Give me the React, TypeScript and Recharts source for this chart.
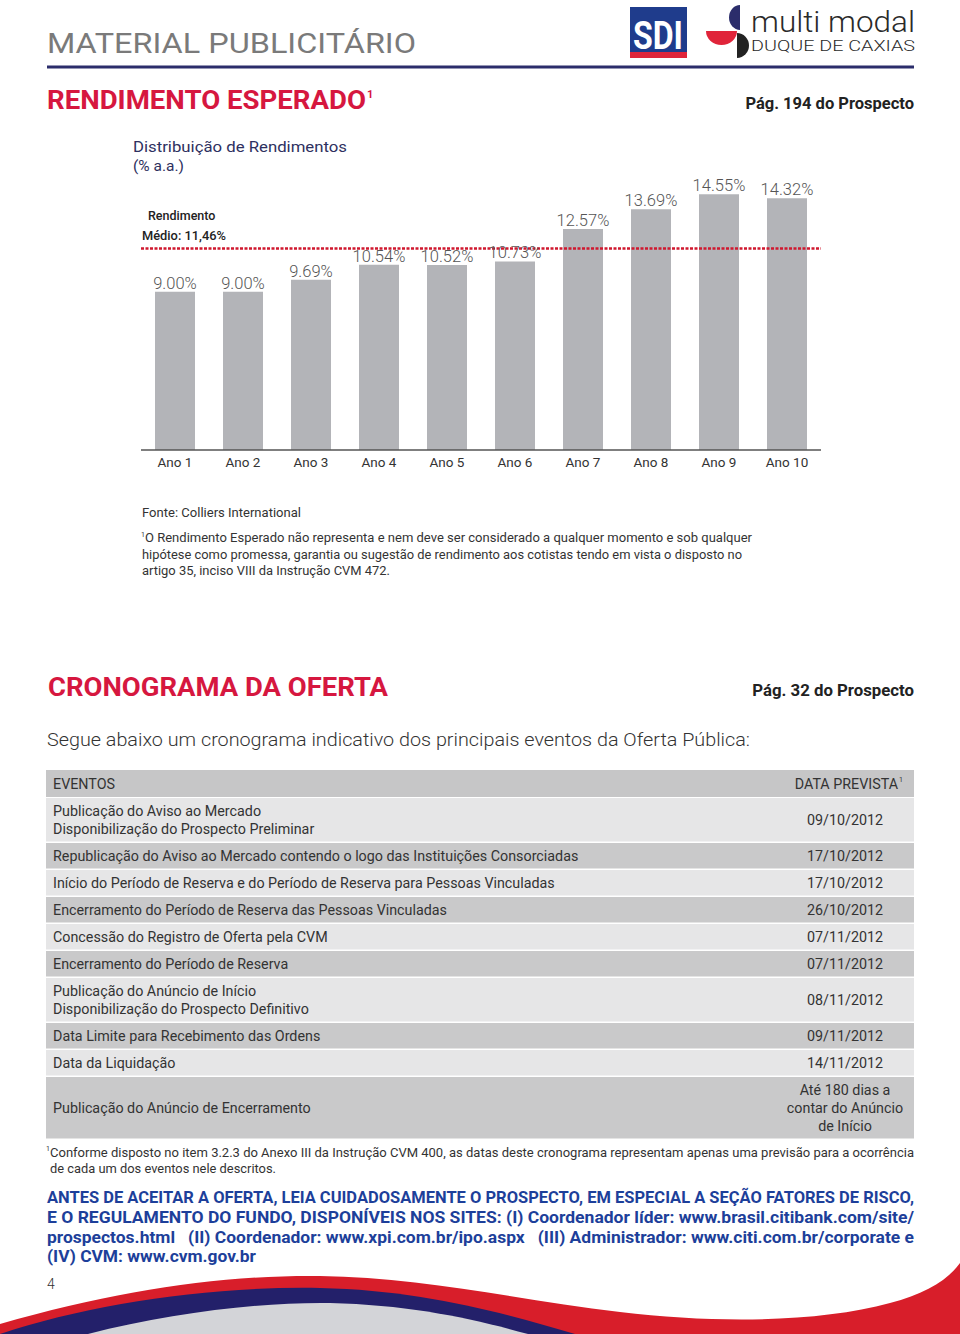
import React from 'react';
import { BarChart, Bar, XAxis, YAxis, ReferenceLine, LabelList } from 'recharts';

const categories = ['Ano 1', 'Ano 2', 'Ano 3', 'Ano 4', 'Ano 5', 'Ano 6', 'Ano 7', 'Ano 8', 'Ano 9', 'Ano 10'];
const rendimentos = [9.0, 9.0, 9.69, 10.54, 10.52, 10.73, 12.57, 13.69, 14.55, 14.32];
const rendimentoMedio = 11.46;

const eventos = [
  ['Publicação do Aviso ao Mercado', 'Disponibilização do Prospecto Preliminar'],
  ['Republicação do Aviso ao Mercado contendo o logo das Instituições Consorciadas'],
  ['Início do Período de Reserva e do Período de Reserva para Pessoas Vinculadas'],
  ['Encerramento do Período de Reserva das Pessoas Vinculadas'],
  ['Concessão do Registro de Oferta pela CVM'],
  ['Encerramento do Período de Reserva'],
  ['Publicação do Anúncio de Início', 'Disponibilização do Prospecto Definitivo'],
  ['Data Limite para Recebimento das Ordens'],
  ['Data da Liquidação'],
  ['Publicação do Anúncio de Encerramento'],
];
const datas = [
  ['09/10/2012'],
  ['17/10/2012'],
  ['17/10/2012'],
  ['26/10/2012'],
  ['07/11/2012'],
  ['07/11/2012'],
  ['08/11/2012'],
  ['09/11/2012'],
  ['14/11/2012'],
  ['Até 180 dias a', 'contar do Anúncio', 'de Início'],
];

const chartData = categories.map((c, i) => ({ name: c, value: rendimentos[i] }));

const RED = '#d6173f';
const NAVY = '#2b2d6b';
const BLUE = '#1d3f9a';

function Table() {
  const rows: React.ReactNode[] = [];
  let y = 797;
  eventos.forEach((ev, i) => {
    const lines = Math.max(ev.length, datas[i].length);
    const h = lines === 1 ? 27 : lines === 2 ? 45 : 63;
    const fill = i % 2 === 0 ? '#e6e6e7' : '#c9c9ca';
    const mid = y + h / 2;
    rows.push(<rect key={'r' + i} x={46} y={y + 1} width={868} height={h - 1.5} fill={fill} />);
    ev.forEach((t, j) => {
      const by = mid + 5 + (j - (ev.length - 1) / 2) * 18;
      rows.push(
        <text key={'e' + i + j} x={53} y={by} fontSize={14.3} fill="#333">{t}</text>
      );
    });
    datas[i].forEach((t, j) => {
      const by = mid + 5 + (j - (datas[i].length - 1) / 2) * 18;
      rows.push(
        <text key={'d' + i + j} x={845} y={by} fontSize={14.3} fill="#333" textAnchor="middle">{t}</text>
      );
    });
    y += h;
  });
  return (
    <g>
      <rect x={46} y={770} width={868} height={27} fill="#c6c6c7" />
      <text x={53} y={789} fontSize={14.3} fill="#333">EVENTOS</text>
      <text x={898} y={789} fontSize={14.3} fill="#333" textAnchor="end">DATA PREVISTA</text>
      <text x={899} y={782} fontSize={7} fill="#333">1</text>
      {rows}
    </g>
  );
}

export default function App() {
  return (
    <div style={{ position: 'absolute', left: 0, top: 0, width: 960, height: 1334, background: '#fff', fontFamily: 'Roboto, "Noto Sans", sans-serif', overflow: 'hidden' }}>
      <svg width={960} height={1334} style={{ position: 'absolute', left: 0, top: 0 }}>
        {/* header */}
        <text x={47} y={53} fontSize={28} fill="#7a7a7a" textLength={369} lengthAdjust="spacingAndGlyphs">MATERIAL PUBLICITÁRIO</text>
        <rect x={630} y={7} width={57} height={51} fill="#1f3c8c" />
        <rect x={630} y={52} width={57} height={6} fill="#e0243a" />
        <text x={658} y={49} fontSize={38} fontWeight={700} fill="#fff" textAnchor="middle" textLength={50} lengthAdjust="spacingAndGlyphs">SDI</text>
        <path d="M740,5 A11,12.5 0 0 0 740,30 Z" fill={NAVY} />
        <path d="M706,31 A15.5,14 0 0 0 737,31 Z" fill="#e0243a" />
        <path d="M737,33 A12,12.5 0 0 1 737,58 Z" fill="#222" />
        <text x={751} y={32} fontSize={30} fill="#2a2a2a" fontWeight={300} textLength={164} lengthAdjust="spacingAndGlyphs">multi modal</text>
        <text x={751} y={51} fontSize={14} fill="#2a2a2a" fontWeight={300} textLength={164} lengthAdjust="spacingAndGlyphs">DUQUE DE CAXIAS</text>
        <rect x={47} y={65.5} width={867} height={3} fill={NAVY} />

        <text x={47} y={109} fontSize={25} fontWeight={700} fill={RED} textLength={319} lengthAdjust="spacingAndGlyphs">RENDIMENTO ESPERADO</text>
        <text x={367} y={98} fontSize={11} fontWeight={700} fill={RED}>1</text>
        <text x={914} y={109} fontSize={16.5} fontWeight={700} fill="#222" textAnchor="end">Pág. 194 do Prospecto</text>

        <text x={133} y={152} fontSize={15.5} fill="#2e3060" textLength={214} lengthAdjust="spacingAndGlyphs">Distribuição de Rendimentos</text>
        <text x={133} y={171} fontSize={15.5} fill="#2e3060">(% a.a.)</text>
        <text x={148} y={220} fontSize={12.5} fill="#222" fontWeight={500}>Rendimento</text>
        <text x={142} y={240} fontSize={12.5} fill="#222" fontWeight={500} textLength={84} lengthAdjust="spacingAndGlyphs">Médio: 11,46%</text>

        <text x={142} y={517} fontSize={13} fill="#333" textLength={159} lengthAdjust="spacingAndGlyphs">Fonte: Colliers International</text>
        <text x={141} y={537} fontSize={7} fill="#333">1</text>
        <text x={145} y={542} fontSize={12.5} fill="#333" textLength={607} lengthAdjust="spacingAndGlyphs">O Rendimento Esperado não representa e nem deve ser considerado a qualquer momento e sob qualquer</text>
        <text x={142} y={559} fontSize={12.5} fill="#333" textLength={600} lengthAdjust="spacingAndGlyphs">hipótese como promessa, garantia ou sugestão de rendimento aos cotistas tendo em vista o disposto no</text>
        <text x={142} y={575} fontSize={12.5} fill="#333" textLength={248} lengthAdjust="spacingAndGlyphs">artigo 35, inciso VIII da Instrução CVM 472.</text>

        <text x={48} y={696} fontSize={25} fontWeight={700} fill={RED} textLength={340} lengthAdjust="spacingAndGlyphs">CRONOGRAMA DA OFERTA</text>
        <text x={914} y={696} fontSize={16.8} fontWeight={700} fill="#222" textAnchor="end">Pág. 32 do Prospecto</text>
        <text x={47} y={746} fontSize={19} fill="#333" fontWeight={300} textLength={703} lengthAdjust="spacingAndGlyphs">Segue abaixo um cronograma indicativo dos principais eventos da Oferta Pública:</text>

        <Table />

        <text x={46} y={1151} fontSize={7} fill="#333">1</text>
        <text x={50} y={1157} fontSize={13} fill="#333" textLength={864} lengthAdjust="spacingAndGlyphs">Conforme disposto no item 3.2.3 do Anexo III da Instrução CVM 400, as datas deste cronograma representam apenas uma previsão para a ocorrência</text>
        <text x={50} y={1173} fontSize={13} fill="#333" textLength={226} lengthAdjust="spacingAndGlyphs">de cada um dos eventos nele descritos.</text>

        <text x={47} y={1203} fontSize={17} fontWeight={700} fill={BLUE} textLength={867} lengthAdjust="spacingAndGlyphs">ANTES DE ACEITAR A OFERTA, LEIA CUIDADOSAMENTE O PROSPECTO, EM ESPECIAL A SEÇÃO FATORES DE RISCO,</text>
        <text x={47} y={1223} fontSize={17} fontWeight={700} fill={BLUE} textLength={867} lengthAdjust="spacingAndGlyphs" style={{ whiteSpace: 'pre' }}>E O REGULAMENTO DO FUNDO, DISPONÍVEIS NOS SITES: (I) Coordenador líder: www.brasil.citibank.com/site/</text>
        <text x={47} y={1243} fontSize={17} fontWeight={700} fill={BLUE} textLength={867} lengthAdjust="spacingAndGlyphs" style={{ whiteSpace: 'pre' }}>{'prospectos.html   (II) Coordenador: www.xpi.com.br/ipo.aspx   (III) Administrador: www.citi.com.br/corporate e'}</text>
        <text x={47} y={1262} fontSize={17} fontWeight={700} fill={BLUE} textLength={209} lengthAdjust="spacingAndGlyphs">(IV) CVM: www.cvm.gov.br</text>

        <text x={47} y={1289} fontSize={14} fill="#333" fontWeight={300}>4</text>

        {/* bottom wave */}
        <path d="M0,1334 L0,1324 C120,1290 220,1275 320,1276 C420,1277 520,1300 620,1312 C720,1324 820,1322 890,1303 C925,1294 948,1280 960,1263 L960,1334 Z" fill="#d81e2a" />
        <path d="M0,1334 C90,1304 210,1286 320,1288 C420,1290 500,1312 575,1334 Z" fill="#23206a" />
        <path d="M88,1334 C170,1313 260,1302 330,1303 C410,1305 470,1318 528,1334 Z" fill="#d3d4d8" />
      </svg>

      <div style={{ position: 'absolute', left: 0, top: 0 }}>
        <BarChart width={960} height={480} data={chartData} margin={{ top: 167, right: 139, left: 141, bottom: 0 }}>
          <XAxis
            dataKey="name"
            height={30}
            tickLine={false}
            tickSize={3}
            tickMargin={4}
            axisLine={{ stroke: '#555', strokeWidth: 1.5 }}
            tick={{ fill: '#333', fontSize: 13.5 }}
            interval={0}
          />
          <YAxis hide domain={[0, 16.1]} />
          <ReferenceLine y={rendimentoMedio} stroke="#d0182f" strokeWidth={2.5} strokeDasharray="3 1.5" />
          <Bar dataKey="value" fill="#b3b4b8" barSize={40} isAnimationActive={false}>
            <LabelList dataKey="value" position="top" offset={3} fill="#555" fontSize={16.5} fontWeight={300} formatter={(v: number) => v.toFixed(2) + '%'} />
          </Bar>
        </BarChart>
      </div>
    </div>
  );
}
